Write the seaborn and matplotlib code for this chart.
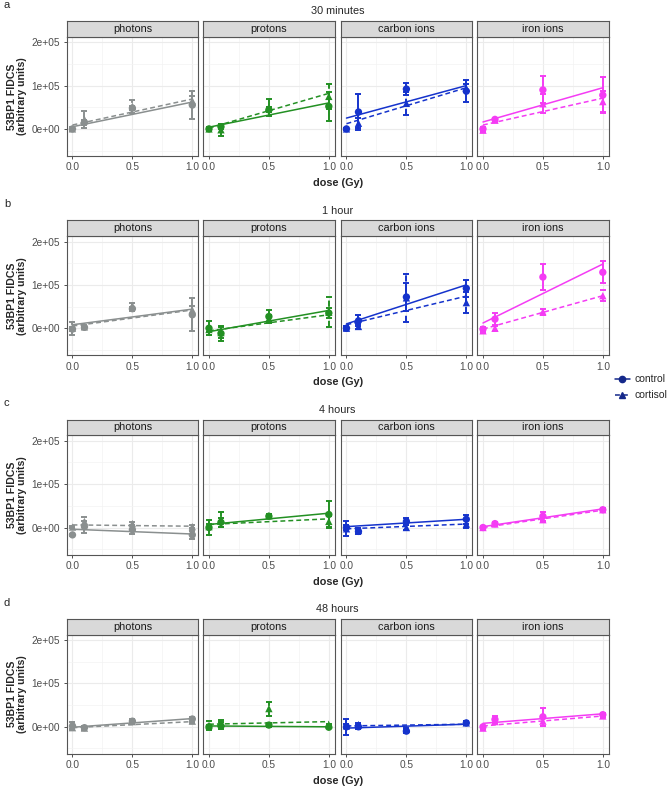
import numpy as np
import pandas as pd
import matplotlib
matplotlib.use("Agg")
import matplotlib.pyplot as plt
import seaborn as sns
from matplotlib.lines import Line2D

sns.set_theme(style="white")
plt.rcParams['font.family'] = ['Liberation Sans', 'DejaVu Sans']

# 数据 (单位 1e5)
doses = [0.0, 0.1, 0.5, 1.0]
times = ["30 minutes", "1 hour", "4 hours", "48 hours"]
row_tags = ["a", "b", "c", "d"]
radiations = ["photons", "protons", "carbon ions", "iron ions"]
rad_colors = ["#8A8F8F", "#239023", "#1533CC", "#F43CF4"]
treatments = ["control", "cortisol"]

# 30 minutes
ctrl_30m = [[0.0, 0.15, 0.48, 0.55], [0.0, 0.05, 0.44, 0.52], [0.0, 0.39, 0.92, 0.87], [0.0, 0.22, 0.90, 0.78]]
ctrl_err_30m = [[0.03, 0.05, 0.05, 0.32], [0.05, 0.05, 0.06, 0.33], [0.03, 0.41, 0.14, 0.26], [0.04, 0.04, 0.31, 0.41]]
cort_30m = [[0.0, 0.22, 0.52, 0.65], [0.0, -0.02, 0.50, 0.75], [0.0, 0.13, 0.59, 0.94], [-0.03, 0.20, 0.58, 0.63]]
cort_err_30m = [[0.04, 0.20, 0.15, 0.10], [0.05, 0.14, 0.20, 0.28], [0.02, 0.12, 0.27, 0.10], [0.05, 0.04, 0.22, 0.25]]
fit_ctrl_30m = [(0.05, 0.62), (0.04, 0.60), (0.25, 1.00), (0.16, 0.95)]
fit_cort_30m = [(0.09, 0.69), (0.02, 0.82), (0.12, 0.95), (0.09, 0.71)]

# 1 hour
ctrl_1h = [[-0.02, 0.02, 0.45, 0.31], [0.0, -0.12, 0.27, 0.35], [0.0, 0.17, 0.72, 0.92], [-0.02, 0.21, 1.18, 1.29]]
ctrl_err_1h = [[0.05, 0.04, 0.05, 0.38], [0.16, 0.17, 0.15, 0.12], [0.04, 0.13, 0.33, 0.20], [0.05, 0.13, 0.30, 0.25]]
cort_1h = [[0.0, 0.03, 0.52, 0.42], [-0.03, -0.10, 0.22, 0.37], [0.0, 0.04, 0.70, 0.59], [-0.06, 0.0, 0.38, 0.75]]
cort_err_1h = [[0.15, 0.04, 0.06, 0.10], [0.05, 0.12, 0.08, 0.35], [0.04, 0.05, 0.55, 0.24], [0.04, 0.06, 0.07, 0.13]]
fit_ctrl_1h = [(0.08, 0.44), (-0.08, 0.41), (0.10, 1.00), (0.12, 1.48)]
fit_cort_1h = [(0.05, 0.42), (-0.06, 0.31), (0.08, 0.74), (-0.02, 0.75)]

# 4 hours
ctrl_4h = [[-0.17, 0.02, -0.05, -0.17], [0.0, 0.12, 0.26, 0.30], [0.0, -0.09, 0.14, 0.19], [0.0, 0.09, 0.26, 0.41]]
ctrl_err_4h = [[0.03, 0.14, 0.10, 0.09], [0.18, 0.10, 0.05, 0.31], [0.05, 0.05, 0.08, 0.10], [0.03, 0.04, 0.10, 0.03]]
cort_4h = [[0.01, 0.14, 0.09, 0.02], [0.02, 0.18, 0.27, 0.14], [-0.03, -0.07, 0.0, 0.08], [0.0, 0.08, 0.18, 0.41]]
cort_err_4h = [[0.03, 0.10, 0.04, 0.03], [0.05, 0.17, 0.05, 0.13], [0.17, 0.05, 0.05, 0.10], [0.03, 0.03, 0.06, 0.03]]
fit_ctrl_4h = [(-0.04, -0.15), (0.07, 0.33), (0.02, 0.19), (0.02, 0.43)]
fit_cort_4h = [(0.06, 0.03), (0.07, 0.20), (-0.03, 0.08), (0.0, 0.40)]

# 48 hours
ctrl_48h = [[0.02, -0.02, 0.13, 0.18], [0.0, 0.02, 0.04, -0.01], [0.0, 0.0, -0.10, 0.09], [0.0, 0.17, 0.23, 0.28]]
ctrl_err_48h = [[0.08, 0.05, 0.04, 0.05], [0.05, 0.08, 0.04, 0.02], [0.18, 0.05, 0.04, 0.05], [0.03, 0.08, 0.20, 0.04]]
cort_48h = [[-0.02, -0.03, 0.12, 0.13], [0.03, 0.08, 0.42, 0.05], [0.02, 0.05, -0.06, 0.09], [-0.03, 0.12, 0.13, 0.25]]
cort_err_48h = [[0.05, 0.04, 0.03, 0.05], [0.10, 0.08, 0.16, 0.02], [0.05, 0.04, 0.03, 0.05], [0.03, 0.05, 0.10, 0.03]]
fit_ctrl_48h = [(-0.01, 0.19), (0.02, 0.0), (-0.03, 0.06), (0.08, 0.30)]
fit_cort_48h = [(-0.02, 0.12), (0.06, 0.12), (0.02, 0.06), (0.02, 0.25)]

y_ticks = [0, 100000, 200000]
y_tick_labels = ["0e+00", "1e+05", "2e+05"]
x_ticks = [0.0, 0.5, 1.0]
x_tick_labels = ["0.0", "0.5", "1.0"]

rows = [
    (ctrl_30m, ctrl_err_30m, cort_30m, cort_err_30m, fit_ctrl_30m, fit_cort_30m),
    (ctrl_1h, ctrl_err_1h, cort_1h, cort_err_1h, fit_ctrl_1h, fit_cort_1h),
    (ctrl_4h, ctrl_err_4h, cort_4h, cort_err_4h, fit_ctrl_4h, fit_cort_4h),
    (ctrl_48h, ctrl_err_48h, cort_48h, cort_err_48h, fit_ctrl_48h, fit_cort_48h),
]

# 布局 (像素)
W, H = 669, 787
fig = plt.figure(figsize=(W / 100, H / 100), dpi=100)
panel_x = [66.5, 203.0, 340.5, 477.0]
panel_w = 131.8
panel_h = 119.2
strip_h = 15.8
row_step = 199.3
first_top = 36.8

def fig_rect(x, y, w, h):
    return [x / W, 1 - (y + h) / H, w / W, h / H]

border_col = "#555555"
tick_col = "#4D4D4D"
scale = 1e5
dash = (0, (3.2, 2.0))

for r, (cm, ce, tm, te, fc, ft) in enumerate(rows):
    top = first_top + r * row_step
    for c, rad in enumerate(radiations):
        col = rad_colors[c]
        ax = fig.add_axes(fig_rect(panel_x[c], top, panel_w, panel_h))
        ax.set_facecolor("white")
        pts = pd.DataFrame({
            "dose": doses * 2,
            "mean": np.concatenate([cm[c], tm[c]]) * scale,
            "err": np.concatenate([ce[c], te[c]]) * scale,
            "treatment": ["control"] * 4 + ["cortisol"] * 4,
        })
        fits = pd.DataFrame({
            "dose": [0.0, 1.0, 0.0, 1.0],
            "value": np.array([fc[c][0], fc[c][1], ft[c][0], ft[c][1]]) * scale,
            "treatment": ["control", "control", "cortisol", "cortisol"],
        })
        # 回归线
        sns.lineplot(data=fits, x="dose", y="value", style="treatment",
                     dashes={"control": "", "cortisol": (3.2, 2.0)},
                     color=col, lw=1.1, legend=False, ax=ax)
        # 误差线
        for tr in treatments:
            sub = pts[pts["treatment"] == tr]
            eb = ax.errorbar(sub["dose"], sub["mean"], yerr=sub["err"], fmt="none",
                             ecolor=col, elinewidth=1.4, capsize=2.3, capthick=1.4, zorder=3)
            if tr == "cortisol":
                eb[2][0].set_linestyle(dash)
        # 点
        sns.scatterplot(data=pts, x="dose", y="mean", style="treatment",
                        markers={"control": "o", "cortisol": "^"}, color=col,
                        s=28, linewidth=0, legend=False, ax=ax, zorder=4)

        ax.set_xlim(-0.05, 1.05)
        ax.set_ylim(-62500, 212500)
        ax.set_xticks(x_ticks)
        ax.set_xticks([0.25, 0.75], minor=True)
        ax.set_yticks(y_ticks)
        ax.set_yticks([-50000, 50000, 150000], minor=True)
        ax.grid(which="major", color="#EBEBEB", lw=0.8)
        ax.grid(which="minor", color="#F3F3F3", lw=0.5)
        ax.set_axisbelow(True)
        ax.set_xticklabels(x_tick_labels, fontsize=7.3, color=tick_col)
        if c == 0:
            ax.set_yticklabels(y_tick_labels, fontsize=7.3, color=tick_col)
        else:
            ax.set_yticklabels([])
        ax.tick_params(axis="both", which="major", length=2.5, width=0.6, color="#333333", pad=2,
                       bottom=True, left=(c == 0))
        ax.tick_params(which="minor", length=0)
        ax.set_xlabel("")
        ax.set_ylabel("")
        for sp in ax.spines.values():
            sp.set_color(border_col)
            sp.set_linewidth(0.8)

        # 分面标签
        sax = fig.add_axes(fig_rect(panel_x[c], top - strip_h, panel_w, strip_h))
        sax.set_facecolor("#D9D9D9")
        sax.set_xticks([])
        sax.set_yticks([])
        for sp in sax.spines.values():
            sp.set_color(border_col)
            sp.set_linewidth(0.8)
        sax.text(0.5, 0.5, rad, ha="center", va="center", fontsize=7.8, color="#1A1A1A",
                 transform=sax.transAxes)

    mid_x = (panel_x[0] + panel_x[3] + panel_w) / 2
    fig.text(4 / W, 1 - (top - 32) / H, row_tags[r], fontsize=8, ha="left", va="center")
    fig.text(mid_x / W, 1 - (top - 25.5) / H, times[r], fontsize=7.8, ha="center", va="center")
    fig.text(mid_x / W, 1 - (top + panel_h + 27) / H, "dose (Gy)", fontsize=7.8,
             fontweight="bold", ha="center", va="center")
    fig.text(17 / W, 1 - (top + panel_h / 2) / H, "53BP1 FIDCS\n(arbitrary units)", fontsize=7.6,
             fontweight="bold", ha="center", va="center", rotation=90, linespacing=0.95)

# 图例
navy = "#14288A"
handles = [
    Line2D([], [], color=navy, marker="o", linestyle="-", lw=1.1, markersize=4.5),
    Line2D([], [], color=navy, marker="^", linestyle=(0, (3.2, 2.0)), lw=1.1, markersize=4.5),
]
fig.legend(handles, treatments, loc="upper left", bbox_to_anchor=(611 / W, 1 - 370 / H),
           frameon=False, fontsize=7.5, handlelength=1.4, handletextpad=0.5,
           labelspacing=0.6, borderaxespad=0)

fig.savefig("out.png", dpi=100)
